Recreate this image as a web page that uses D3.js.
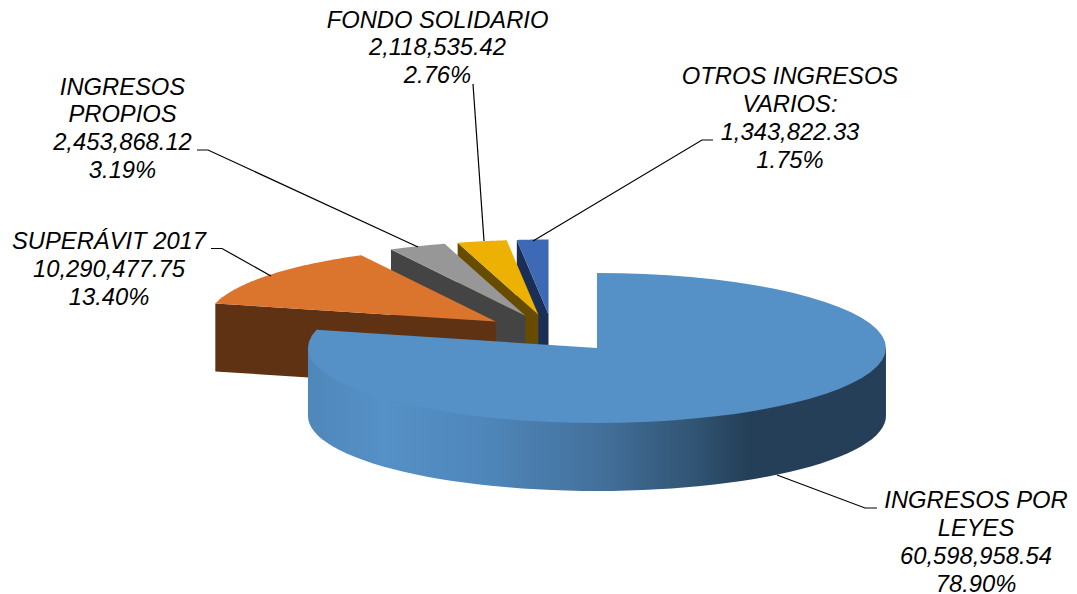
<!DOCTYPE html>
<html>
<head>
<meta charset="utf-8">
<script src="https://cdn.jsdelivr.net/npm/d3@7"></script>
<style>
  html, body { margin: 0; padding: 0; background: #fff; }
  svg { display: block; }
</style>
</head>
<body>
<div class="canvas"></div>
<script>
// data
const categories = ['INGRESOS POR LEYES', 'SUPERÁVIT 2017', 'INGRESOS PROPIOS', 'FONDO SOLIDARIO', 'OTROS INGRESOS VARIOS:'];
const values = [60598958.54, 10290477.75, 2453868.12, 2118535.42, 1343822.33];

const labelNames = [
    ['INGRESOS POR', 'LEYES'],
    ['SUPERÁVIT 2017'],
    ['INGRESOS', 'PROPIOS'],
    ['FONDO SOLIDARIO'],
    ['OTROS INGRESOS', 'VARIOS:']
];

// styles and layout
const topColors = ['#5590c6', '#db742c', '#979797', '#edb104', '#3e69b4'];
const sideColors = ['#253f58', '#5f3214', '#444444', '#674c00', '#1b2e55'];
const labelCenters = [[976, 508], [109, 249], [122.5, 94.5], [437.5, 27.5], [790, 84]];
const leaders = [
    [[877, 508], [865, 508], [777, 475]],
    [[211, 248.5], [222, 248.5], [271, 276]],
    [[197, 150], [208, 150], [418, 247]],
    [[473, 84], [484, 241]],
    [[713, 140], [702, 140], [533, 241]]
];

const svgDims = { width: 1077, height: 594 };
const pieCentre = { x: 552.5, y: 333.2 };
const radius = { x: 289, y: 75 };
const explode = 0.25;
const depth = 68;
const lineHeight = 27.9;

const svg = d3.selectAll('.canvas')
    .append('svg')
    .attr('width', svgDims.width)
    .attr('height', svgDims.height);

const x = d3.scaleLinear().domain([-1, 1]).range([pieCentre.x - radius.x, pieCentre.x + radius.x]);
const y = d3.scaleLinear().domain([-1, 1]).range([pieCentre.y + radius.y, pieCentre.y - radius.y]);

const pie = d3.pie().sort(null).value(d => d);
const slices = pie(values);
const total = d3.sum(values);

const line = d3.line();

// shift of a slice along its middle angle
const offset = s => {
    const mid = (s.startAngle + s.endAngle) / 2;
    return [explode * Math.sin(mid), explode * Math.cos(mid)];
};

const project = (s, r, a, drop = 0) => {
    const [ox, oy] = offset(s);
    return [x(ox + r * Math.sin(a)), y(oy + r * Math.cos(a)) + drop];
};

const arcPoints = (s, a0, a1, drop = 0) => d3.range(0, 61).map(i => project(s, 1, a0 + (a1 - a0) * i / 60, drop));

const topPath = s => line([project(s, 0, 0), ...arcPoints(s, s.startAngle, s.endAngle)]) + 'Z';

// gradient of the big slice rim
const grad = svg.append('defs').append('linearGradient')
    .attr('id', 'rim')
    .attr('gradientUnits', 'userSpaceOnUse')
    .attr('x1', 308).attr('x2', 886).attr('y1', 0).attr('y2', 0);
[[0, '#4f87ba'], [0.13, '#5590c6'], [0.3, '#4f87bb'], [0.5, '#44719c'], [0.68, '#2f5270'], [0.76, sideColors[0]], [1, sideColors[0]]]
    .forEach(([o, c]) => grad.append('stop').attr('offset', o).attr('stop-color', c));

const pieGroup = svg.append('g');

// small slices, from right to left so each one covers the previous
d3.range(slices.length - 1, 0, -1).forEach(i => {
    const s = slices[i];
    const tip = project(s, 0, 0);
    const corner = project(s, 1, s.startAngle);
    pieGroup.append('path')
        .attr('d', line([corner, tip, [tip[0], tip[1] + depth], [corner[0], corner[1] + depth]]) + 'Z')
        .attr('fill', sideColors[i]);
    pieGroup.append('path')
        .attr('d', topPath(s))
        .attr('fill', topColors[i]);
});

// big slice goes in front of everything
// rim runs a bit under the top face so no white seam shows between them
const big = slices[0];
const rimStart = Math.PI / 2;
const rimEnd = 3 * Math.PI / 2;
const rimBottom = arcPoints(big, rimEnd, rimStart, depth);
pieGroup.append('path')
    .attr('d', line([project(big, 1, rimStart), project(big, 0.9, rimStart), project(big, 0.9, rimEnd), project(big, 1, rimEnd), ...rimBottom]) + 'Z')
    .attr('fill', 'url(#rim)');
pieGroup.append('path')
    .attr('d', topPath(big))
    .attr('fill', topColors[0]);

// leader lines
svg.append('g').selectAll('path')
    .data(leaders)
    .enter()
    .append('path')
        .attr('d', d => line(d))
        .attr('fill', 'none')
        .attr('stroke', '#000')
        .attr('stroke-width', 1.2);

// labels
const fmtValue = d3.format(',.2f');
const fmtPct = d3.format('.2%');

const labels = svg.append('g').selectAll('text')
    .data(categories)
    .enter()
    .append('text')
        .attr('transform', (d, i) => `translate(${labelCenters[i][0]}, ${labelCenters[i][1]})`)
        .attr('text-anchor', 'middle')
        .style('font-family', '"Liberation Sans", Arial, sans-serif')
        .style('font-style', 'italic')
        .style('font-size', '23.75px')
        .attr('fill', '#000');

labels.each(function(d, i) {
    const rows = [...labelNames[i], fmtValue(values[i]), fmtPct(values[i] / total)];
    d3.select(this).selectAll('tspan')
        .data(rows)
        .enter()
        .append('tspan')
            .attr('x', 0)
            .attr('y', (r, j) => j * lineHeight)
            .text(r => r);
});
</script>
</body>
</html>
